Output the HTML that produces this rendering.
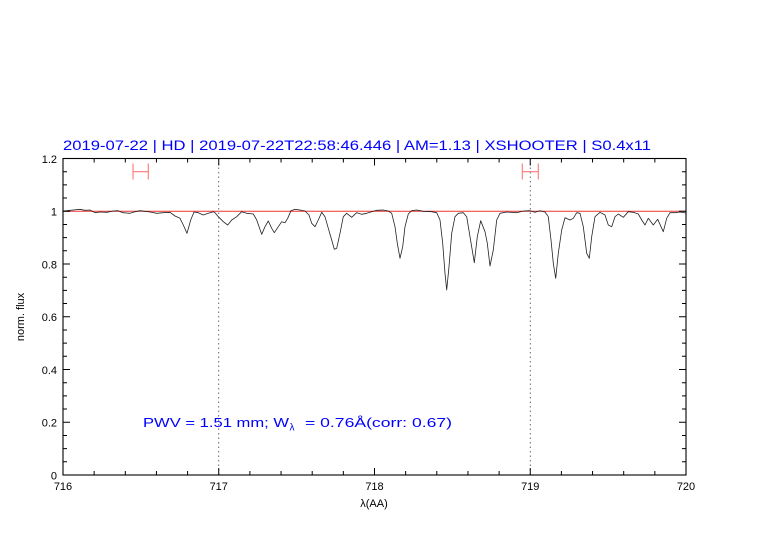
<!DOCTYPE html>
<html><head><meta charset="utf-8"><style>
html,body{margin:0;padding:0;background:#fff;}
svg{display:block;}
text{font-family:"Liberation Sans",sans-serif;}
</style></head><body>
<svg width="782" height="542" viewBox="0 0 782 542" xmlns="http://www.w3.org/2000/svg">
<rect width="782" height="542" fill="#fff"/>
<!-- title -->
<text x="63" y="150" font-size="13.5" fill="#0000ff" textLength="588" lengthAdjust="spacingAndGlyphs">2019-07-22 | HD | 2019-07-22T22:58:46.446 | AM=1.13 | XSHOOTER | S0.4x11</text>
<!-- dotted verticals -->
<line x1="218.75" y1="158.5" x2="218.75" y2="475" stroke="#444" stroke-width="0.8" stroke-dasharray="1.5,3"/>
<line x1="530.25" y1="158.5" x2="530.25" y2="475" stroke="#444" stroke-width="0.8" stroke-dasharray="1.5,3"/>
<!-- red line at 1 -->
<line x1="63" y1="211.25" x2="686" y2="211.25" stroke="#ee3333" stroke-width="0.9"/>
<!-- error bars -->
<g stroke="#ff7777" stroke-width="1.1" fill="none">
<path d="M133 163.5V179.5M148.3 163.5V179.5M133 171.7H148.3"/>
<path d="M522.3 163.5V179.5M538.3 163.5V179.5M522.3 171.7H538.3"/>
</g>
<!-- spectrum -->
<polyline fill="none" stroke="#222" stroke-width="0.8" stroke-linejoin="round" points="
63,211 67,210.7 73,210 80,209.3 85,210.3 90,210 95,212.7 100,212 107,212.3 113,211 118,210.7 123,212.7 130,213.3 135,211.7 140,210.7 145,211.3 150,212 157,213.3 163,212.7 170,212.3 175,216 180,218.3 183.3,225 187,233.3 190.7,220 194,212 198.3,212.7 203.3,215 208.3,213.3 213.3,211.7 215,212.7 218.3,216.7
223.3,221.7 227.7,225 231.7,220 236.7,216.7 241.7,211.7 246.7,213.3 253.3,214 256.7,220 261.7,234.3 265,226.7 268.3,221 271.7,228.3 274.3,232.7 278.3,226.7 281.7,221.7 285,222.7 287.7,218.3 291,210.7 295,209.3 300,210 305,211 309,215 311.7,223.3 315,226.7 318.3,220 321.7,212.3 325,216.7 328.3,228.3 331.7,240 334.3,249.3 336.7,248.3 340,233.3 343.3,216.7 346.7,213.3 351.7,217.3 356.7,212.7 361.7,214.3 366.7,213.3 371.7,211.7
376.7,210.3 383.3,210 388.3,211 391.7,213.3 395,226.7 397.3,243.3 400,258.3 402.7,246.7 405,226.7 408.3,214 411.7,210.7 416.7,210 423.3,211.3 431.7,211.7 436.7,212.7 440,220 442.7,243.3 445,273.3 446.7,290 449,266.7 451.7,233.3 455,216.7 458.3,213.3 463.3,212.7 466.7,216.7 470,236.7 474.3,262.7 477.3,236.7 480.7,220.7 485,231.7 487.3,243.3 490,266 493.3,250 496.7,220 500,213.3 506.7,212 516.7,212.7 523.3,211 530,210.7
535,212.3 540,210.7 545,212 548.3,216.7 551,240 553.3,263.3 555.7,278.3 558.3,253.3 561.7,230 565,217.7 570,220 573.3,218.3 576.7,212.7 580,213.3 583.3,226.7 586.7,253.3 589.3,258.3 591.7,236.7 595,216.7 600,212.3 605,215 608.3,225 611.7,226.7 615,216.7 618.3,214 623.3,217.3 628.3,211.7 633.3,212.3 638.3,214 641.7,220 645,225 648.3,218.3 653.3,225 657.7,219.3 661,226.7 663.3,231.7 666.7,218.3 670,212.7 675,212.7 680,212 686,213"/>
<!-- frame -->
<rect x="63" y="158.5" width="623" height="316.5" fill="none" stroke="#000" stroke-width="1.1"/>
<!-- ticks -->
<path stroke="#000" stroke-width="1" fill="none" d="
M94.15 475V471M125.3 475V471M156.45 475V471M187.6 475V471M218.75 475V468M249.9 475V471M281.05 475V471M312.2 475V471M343.35 475V471M374.5 475V468M405.65 475V471M436.8 475V471M467.95 475V471M499.1 475V471M530.25 475V468M561.4 475V471M592.55 475V471M623.7 475V471M654.85 475V471
M94.15 158.5V162.5M125.3 158.5V162.5M156.45 158.5V162.5M187.6 158.5V162.5M218.75 158.5V165.5M249.9 158.5V162.5M281.05 158.5V162.5M312.2 158.5V162.5M343.35 158.5V162.5M374.5 158.5V165.5M405.65 158.5V162.5M436.8 158.5V162.5M467.95 158.5V162.5M499.1 158.5V162.5M530.25 158.5V165.5M561.4 158.5V162.5M592.55 158.5V162.5M623.7 158.5V162.5M654.85 158.5V162.5
M63 461.81H67M63 448.63H67M63 435.44H67M63 422.25H70M63 409.06H67M63 395.88H67M63 382.69H67M63 369.5H70M63 356.31H67M63 343.13H67M63 329.94H67M63 316.75H70M63 303.56H67M63 290.38H67M63 277.19H67M63 264H70M63 250.81H67M63 237.63H67M63 224.44H67M63 211.25H70M63 198.06H67M63 184.88H67M63 171.69H67
M686 461.81H682M686 448.63H682M686 435.44H682M686 422.25H679M686 409.06H682M686 395.88H682M686 382.69H682M686 369.5H679M686 356.31H682M686 343.13H682M686 329.94H682M686 316.75H679M686 303.56H682M686 290.38H682M686 277.19H682M686 264H679M686 250.81H682M686 237.63H682M686 224.44H682M686 211.25H679M686 198.06H682M686 184.88H682M686 171.69H682
"/>
<!-- x tick labels -->
<g font-size="11" fill="#000" text-anchor="middle">
<text x="63" y="490">716</text>
<text x="218.75" y="490">717</text>
<text x="374.5" y="490">718</text>
<text x="530.25" y="490">719</text>
<text x="686" y="490">720</text>
<text x="374" y="507">λ(AA)</text>
</g>
<!-- y tick labels -->
<g font-size="11" fill="#000" text-anchor="end">
<text x="57" y="479.5">0</text>
<text x="57" y="426.5">0.2</text>
<text x="57" y="373.8">0.4</text>
<text x="57" y="321">0.6</text>
<text x="57" y="268.3">0.8</text>
<text x="57" y="215.5">1</text>
<text x="57" y="162.8">1.2</text>
</g>
<text x="0" y="0" font-size="11" fill="#000" text-anchor="middle" transform="translate(24,317) rotate(-90)">norm. flux</text>
<!-- annotation -->
<g font-size="13" fill="#0000ff">
<text x="143" y="427" textLength="146" lengthAdjust="spacingAndGlyphs">PWV = 1.51 mm; W</text>
<text x="289.5" y="430.5" font-size="10">λ</text>
<text x="305" y="427" textLength="147" lengthAdjust="spacingAndGlyphs">= 0.76Å(corr: 0.67)</text>
</g>
</svg>
</body></html>
